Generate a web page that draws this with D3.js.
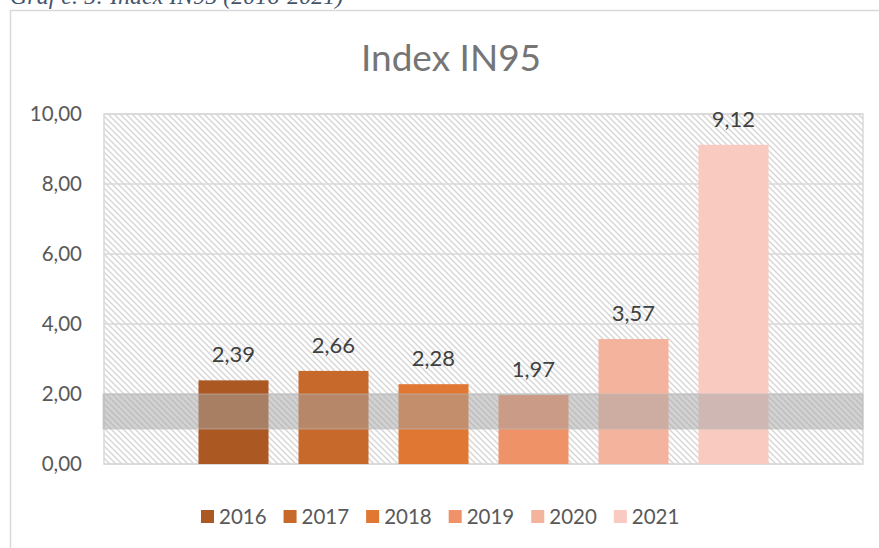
<!DOCTYPE html>
<html><head><meta charset="utf-8">
<script src="https://cdn.jsdelivr.net/npm/d3@7"></script>
<style>html,body{margin:0;padding:0;background:#fff;overflow:hidden}</style>
</head><body>
<svg id="c" width="879" height="548"></svg>
<script>
const caption = "Graf č. 5: Index IN95 (2016-2021)";
const title = "Index IN95";
const years = ["2016","2017","2018","2019","2020","2021"];
const values = [2.39, 2.66, 2.28, 1.97, 3.57, 9.12];
const colors = ["#AC5823","#C8692C","#E07733","#EF9268","#F4B39C","#F8CAC0"];
const yTicks = [0, 2, 4, 6, 8, 10];
const band = [1, 2];

const svg = d3.select("#c");
const loc = d3.formatLocale({decimal: ",", thousands: " ", grouping: [3], currency: ["", ""]});
const fmt = loc.format(".2f");

const L = 104, R = 863, T = 114, B = 464;
const y = d3.scaleLinear().domain([0, 10]).range([B, T]);
const cx = (L + R) / 2;
const x = d3.scaleBand().domain(years).range([cx - 300, cx + 300]).paddingInner(0.3).paddingOuter(0.15);

// chart frame
svg.append("rect").attr("x", 10.5).attr("y", 10.5).attr("width", 900).attr("height", 600)
  .attr("fill", "#fff").attr("stroke", "#D9D9D9").attr("stroke-width", 1.5);

// caption (cut off at top)
svg.append("text").attr("x", 10).attr("y", 4).text(caption)
  .attr("font-family", "Liberation Serif").attr("font-style", "italic")
  .attr("font-size", 24).attr("fill", "#44546A");

// hatch pattern
const defs = svg.append("defs");
const pat = defs.append("pattern").attr("id", "hatch").attr("patternUnits", "userSpaceOnUse")
  .attr("width", 6).attr("height", 6);
pat.append("rect").attr("width", 6).attr("height", 6).attr("fill", "#fff");
pat.append("path").attr("d", "M-1,-1 L7,7 M-1,5 L1,7 M5,-1 L7,1")
  .attr("stroke", "#D6D6D6").attr("stroke-width", 1.4);

svg.append("rect").attr("x", L).attr("y", T).attr("width", R - L).attr("height", B - T)
  .attr("fill", "url(#hatch)").attr("stroke", "#D9D9D9").attr("stroke-width", 1.5);

// gridlines
svg.append("g").selectAll("line").data(yTicks).join("line")
  .attr("x1", L).attr("x2", R).attr("y1", d => y(d)).attr("y2", d => y(d))
  .attr("stroke", "#D9D9D9").attr("stroke-width", 1.5);

// y axis
const ax = svg.append("g").attr("transform", `translate(${L},0)`)
  .call(d3.axisLeft(y).tickValues(yTicks).tickFormat(fmt).tickSize(0).tickPadding(22));
ax.select(".domain").remove();
ax.selectAll("text").attr("font-family", "Lato").attr("font-size", 20.5).attr("fill", "#595959");

// title
svg.append("text").attr("x", 451).attr("y", 71).attr("text-anchor", "middle").text(title)
  .attr("font-family", "Lato").attr("font-size", 37).attr("fill", "#757575");

// bars
svg.append("g").selectAll("rect").data(years).join("rect")
  .attr("x", d => x(d)).attr("width", x.bandwidth())
  .attr("y", (d, i) => y(values[i])).attr("height", (d, i) => B - y(values[i]))
  .attr("fill", (d, i) => colors[i]);

// data labels
svg.append("g").selectAll("text").data(years).join("text")
  .attr("x", d => x(d) + x.bandwidth() / 2).attr("y", (d, i) => y(values[i]) - 18)
  .attr("text-anchor", "middle").text((d, i) => fmt(values[i]))
  .attr("font-family", "Lato").attr("font-size", 22).attr("fill", "#404040");

// band
svg.append("rect").attr("x", L - 1).attr("width", R - L + 1)
  .attr("y", y(band[1])).attr("height", y(band[0]) - y(band[1]))
  .attr("fill", "#A5A5A5").attr("fill-opacity", 0.5)
  .attr("stroke", "#BFBFBF").attr("stroke-opacity", 0.6);

// legend
const lg = svg.append("g");
let lx = 201;
years.forEach((yr, i) => {
  const g = lg.append("g").attr("transform", `translate(${lx},0)`);
  g.append("rect").attr("x", 0).attr("y", 510).attr("width", 13).attr("height", 13).attr("fill", colors[i]);
  const t = g.append("text").attr("x", 18).attr("y", 524).text(yr)
    .attr("font-family", "Lato").attr("font-size", 20.5).attr("fill", "#595959");
  lx += 18 + t.node().getComputedTextLength() + 17;
});
</script>
</body></html>
